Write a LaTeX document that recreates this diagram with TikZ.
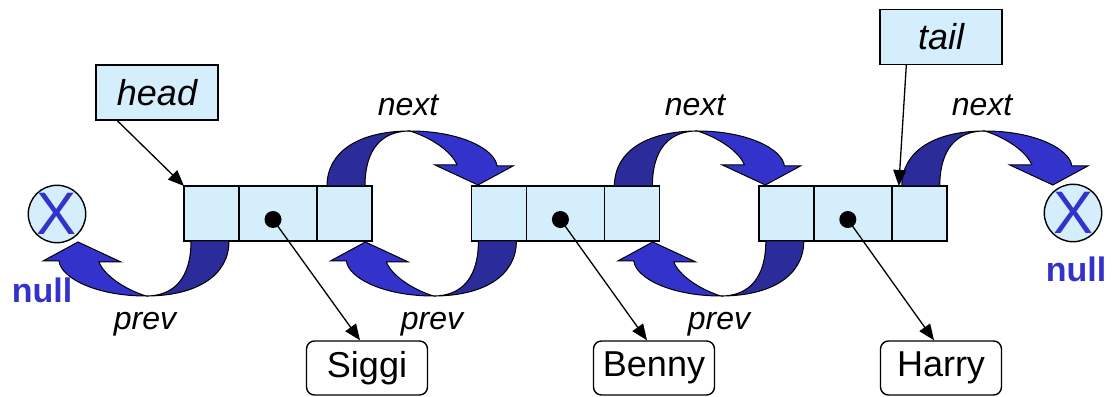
\documentclass[tikz,border=0pt]{standalone}
\usepackage{fontspec}
\setmainfont{Liberation Sans}
\usetikzlibrary{positioning,arrows.meta}

\definecolor{cellfill}{RGB}{212,238,252}
\definecolor{arrowlight}{RGB}{51,51,204}
\definecolor{arrowdark}{RGB}{43,43,153}

\begin{document}
\begin{tikzpicture}[x=0.5pt, y=0.5pt,
		cell/.style={draw, fill=cellfill, line width=0.7pt, minimum height=27.5pt, inner sep=0pt, outer sep=0pt},
		lcell/.style={cell, minimum width=27.5pt},
		dcell/.style={cell, minimum width=39pt},
		var/.style={draw, fill=cellfill, line width=0.7pt, minimum width=61pt, minimum height=27.5pt, font=\fontsize{18}{21}\selectfont\itshape},
		who/.style={draw, rounded corners=4pt, line width=0.7pt, minimum width=60.5pt, minimum height=27pt, font=\fontsize{18}{21}\selectfont},
		lbl/.style={anchor=base, font=\fontsize{16}{19}\selectfont\itshape},
		nil/.style={anchor=base, text=arrowlight, font=\fontsize{17}{20}\selectfont\bfseries},
		nullc/.style={circle, draw, fill=cellfill, line width=0.7pt, minimum size=27pt, inner sep=0pt, text=arrowlight, font=\fontsize{30}{30}\selectfont},
		dot/.style={circle, fill=black, minimum size=8.5pt, inner sep=0pt},
		ptr/.style={line width=0.65pt, -{Triangle[length=8pt, width=6.5pt]}},
		linkarrow/.pic={
			% back half (shaded)
			\filldraw[fill=arrowdark, draw=black, line width=0.5pt] (-83,-55) .. controls (-83,-20) and (-50,0) .. (0,0)
				.. controls (-29,0) and (-45,-19) .. (-45,-55) -- cycle;
			% front half with the head
			\filldraw[fill=arrowlight, draw=black, line width=0.5pt] (0,0) .. controls (50,0) and (85,-18) .. (87,-35)
				-- (103,-35) -- (68,-54) -- (25,-34) -- (47,-34) .. controls (42,-21) and (22,-7) .. (0,0) -- cycle;
		}]
	\useasboundingbox (0,0) rectangle (1113,396);

	% the three list nodes
	\node[dcell] (d1) at (278,182.5) {};
	\node[lcell, left=0pt of d1] (p1) {};
	\node[lcell, right=0pt of d1] (n1) {};
	\node[lcell, right=49.7pt of n1] (p2) {};
	\node[dcell, right=0pt of p2] (d2) {};
	\node[lcell, right=0pt of d2] (n2) {};
	\node[lcell, right=49.7pt of n2] (p3) {};
	\node[dcell, right=0pt of p3] (d3) {};
	\node[lcell, right=0pt of d3] (n3) {};

	\node[dot] (o1) at ([shift={(-5,-6)}]d1.center) {};
	\node[dot] (o2) at ([shift={(-5,-6)}]d2.center) {};
	\node[dot] (o3) at ([shift={(-5,-6)}]d3.center) {};

	% null ends
	\node[nullc] (z1) at (57,182) {X};
	\node[nil] (zl1) at (42,93) {null};
	\node[nullc] (z2) at (1073,183) {X};
	\node[nil] (zl2) at (1076,114) {null};

	% next / prev links
	\pic at ([shift={(93,55)}]n1.north west) {linkarrow};
	\pic at ([shift={(93,55)}]n2.north west) {linkarrow};
	\pic at ([shift={(93,55)}]n3.north west) {linkarrow};
	\pic[rotate=180] at ([shift={(-38,-55)}]p1.south west) {linkarrow};
	\pic[rotate=180] at ([shift={(-38,-55)}]p2.south west) {linkarrow};
	\pic[rotate=180] at ([shift={(-38,-55)}]p3.south west) {linkarrow};

	\node[lbl] (nx1) at (408,280) {next};
	\node[lbl] (nx2) at (695,280) {next};
	\node[lbl] (nx3) at (982,280) {next};
	\node[lbl] (pv1) at (145,66) {prev};
	\node[lbl] (pv2) at (432,66) {prev};
	\node[lbl] (pv3) at (719,66) {prev};

	% data
	\node[who] (s1) at (367,28) {Siggi};
	\node[who] (s2) at (654,28) {Benny};
	\node[who] (s3) at (941,28) {Harry};
	\draw[ptr] (o1.center) -- ([xshift=-3.5pt]s1.north);
	\draw[ptr] (o2.center) -- ([xshift=-3.5pt]s2.north);
	\draw[ptr] (o3.center) -- ([xshift=-3.5pt]s3.north);

	% head and tail
	\node[var] (hd) at (157,303.5) {head};
	\node[var] (tl) at (941,359) {tail};
	\draw[ptr] ([xshift=11pt]hd.south west) -- (p1.north west);
	\draw[ptr] ([xshift=13.5pt]tl.south west) -- ([xshift=3.5pt]n3.north west);
\end{tikzpicture}
\end{document}
